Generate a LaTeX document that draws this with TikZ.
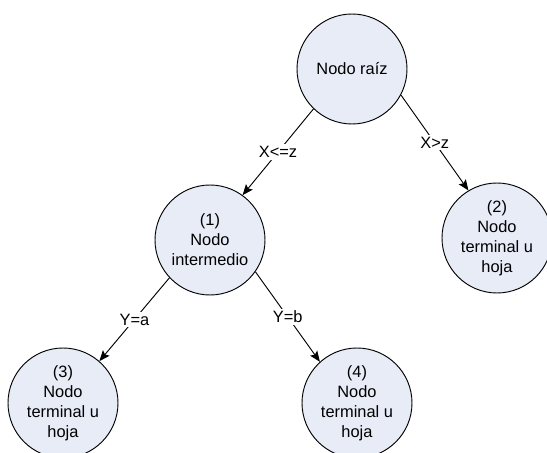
\documentclass[tikz,border=0pt]{standalone}
\usepackage{fontspec}
\setmainfont{Liberation Sans}
\usetikzlibrary{arrows.meta}

\begin{document}
\begin{tikzpicture}[x=0.75pt,y=0.75pt,yscale=-1,xscale=1,
	nodo/.style={circle,draw,line width=0.7pt,fill={rgb, 255:red, 231; green, 236; blue, 247 },minimum size=82.5pt,inner sep=0pt,align=center,font=\fontsize{12.3}{15}\selectfont},
	rama/.style={line width=0.7pt,-{Stealth[length=8pt,width=6.5pt,inset=1.5pt]}},
	etiq/.style={fill=white,inner sep=1.5pt,font=\fontsize{12.3}{15}\selectfont}]
				\useasboundingbox (0,0) rectangle (547,453);
				
				%Shape: Circle [root]
				\node [nodo] (raiz) at (352,69) {Nodo raíz};
				%Shape: Circle [(1)]
				\node [nodo] (inter) at (210,240) {(1)\\Nodo\\intermedio};
				%Shape: Circle [(2)]
				\node [nodo] (hoja2) at (497,238) {(2)\\Nodo\\terminal u\\hoja};
				%Shape: Circle [(3)]
				\node [nodo] (hoja3) at (63,403) {(3)\\Nodo\\terminal u\\hoja};
				%Shape: Circle [(4)]
				\node [nodo] (hoja4) at (357,403) {(4)\\Nodo\\terminal u\\hoja};
				
				%Straight Lines
				\draw [rama] (raiz.226) -- (inter.54) node [etiq,midway] {X<=z};
				\draw [rama] (raiz.332) -- (hoja2.121) node [etiq,midway] {X>z};
				\draw [rama] (inter.223) -- (hoja3.49) node [etiq,midway] {Y=a};
				\draw [rama] (inter.325) -- (hoja4.132) node [etiq,midway] {Y=b};
\end{tikzpicture}
\end{document}
